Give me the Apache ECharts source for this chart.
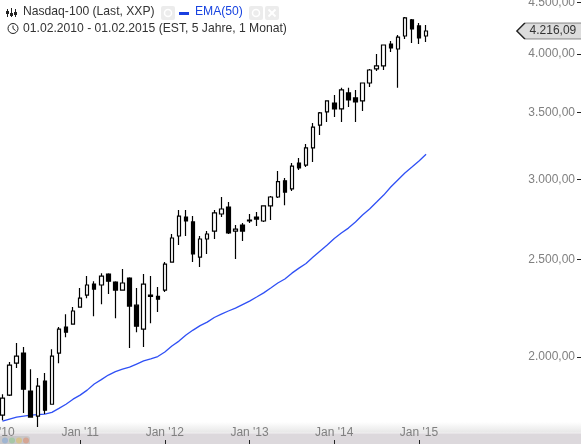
<!DOCTYPE html>
<html><head><meta charset="utf-8">
<style>html,body{margin:0;padding:0;background:#fff;overflow:hidden}#c{width:581px;height:444px}</style>
<script src="https://cdn.jsdelivr.net/npm/echarts@6/dist/echarts.min.js"></script>
</head><body><div id="c"></div>
<script>
const FONT = '"Liberation Sans", Arial, sans-serif';
const monthNames = ['Jan','Feb','Mär','Apr','Mai','Jun','Jul','Aug','Sep','Okt','Nov','Dez'];
const years = ['10','11','12','13','14','15','16'];
const xTickLabels = ["Jan '10","Jan '11","Jan '12","Jan '13","Jan '14","Jan '15"];
const yTicks = [2000, 2500, 3000, 3500, 4000, 4500];
const lastPrice = 4216.09;
// monthly candles, Feb 2010 to Feb 2015
const open = [1750,1832,1971,2017,1849,1746,1892,1794,2017,2141,2155,2241,2303,2362,2357,2417,2373,2330,2395,2251,2131,2303,2297,2330,2484,2637,2754,2723,2513,2619,2667,2773,2818,2667,2704,2729,2754,2729,2825,2883,2992,2937,3116,3102,3226,3399,3503,3575,3527,3659,3617,3592,3743,3865,3892,4092,4046,4168,4324,4265,4168];
const close = [1819,1962,2003,1857,1742,1870,1770,2003,2131,2116,2221,2287,2357,2335,2406,2378,2330,2368,2246,2145,2362,2297,2282,2473,2625,2760,2729,2531,2619,2649,2780,2805,2655,2679,2667,2735,2741,2825,2883,2986,2916,3095,3081,3226,3384,3495,3592,3527,3684,3600,3584,3743,3856,3892,4083,4055,4158,4344,4236,4149,4216.09];
const low = [1730,1828,1949,1758,1742,1703,1754,1794,1971,2092,2155,2241,2287,2195,2256,2309,2185,2330,2040,2116,2045,2160,2216,2320,2484,2583,2637,2484,2456,2531,2619,2754,2649,2502,2607,2716,2698,2723,2735,2876,2830,2923,3067,3088,3124,3323,3423,3463,3423,3543,3423,3511,3709,3847,3856,4018,3702,4139,4102,4092,4111];
const high = [1836,1976,2064,2045,1944,1905,1927,2035,2141,2205,2241,2341,2406,2378,2422,2422,2378,2445,2400,2341,2417,2406,2346,2484,2649,2799,2799,2760,2637,2667,2799,2883,2850,2704,2716,2773,2786,2825,2889,3060,3012,3116,3152,3255,3415,3503,3592,3642,3702,3702,3684,3743,3865,4000,4083,4120,4178,4354,4334,4295,4275];
const ema50 = [1726,1734,1742,1746,1750,1752,1754,1761,1777,1794,1815,1832,1853,1879,1898,1918,1933,1944,1953,1967,1981,1990,2001,2022,2050,2073,2102,2126,2148,2165,2188,2205,2221,2236,2254,2272,2293,2315,2341,2368,2390,2422,2450,2476,2513,2548,2583,2622,2655,2685,2723,2767,2805,2850,2896,2950,2998,3046,3088,3131,3179];

const categories = [];
years.forEach(y => monthNames.forEach(m => categories.push(m + " '" + y)));
categories.length = 84;

const fmt = (v, d) => Number(v).toLocaleString('de-DE', {minimumFractionDigits: d, maximumFractionDigits: d});
const candleData = [['-','-','-','-']].concat(open.map((o, i) => [o, close[i], low[i], high[i]]));
const emaData = ['-'].concat(ema50);
const isJan = (i, v) => xTickLabels.includes(v);

const box = (x) => ({type:'rect', shape:{x:x, y:6, width:14, height:14, r:2}, style:{fill:'#ececec'}, silent:true});
const dot = (x, c) => ({type:'circle', shape:{cx:x, cy:440.5, r:3}, style:{fill:c, opacity:.55}, silent:true});
const graphicEls = [
  {type:'rect', shape:{x:0, y:422, width:581, height:11}, style:{fill:{type:'linear',x:0,y:0,x2:0,y2:1,colorStops:[{offset:0,color:'#ffffff'},{offset:1,color:'#e6e6e6'}]}}, silent:true, z:-1},
  {type:'rect', shape:{x:0, y:433, width:581, height:11}, style:{fill:'#dcd8dc'}, silent:true, z:-1},
  {type:'rect', shape:{x:0, y:432.5, width:581, height:1}, style:{fill:'#f2eff2'}, silent:true, z:-1},
  {type:'rect', shape:{x:-4, y:436, width:34, height:14, r:3}, style:{fill:'#c8c6c8'}, silent:true, z:-1},
  dot(5,'#7fa8d8'), dot(12,'#8cc88c'), dot(19,'#e0c060'), dot(26,'#e08a6a'),
  // header
  {type:'line', shape:{x1:7.5,y1:9,x2:7.5,y2:17}, style:{stroke:'#222',lineWidth:1}},
  {type:'line', shape:{x1:11.5,y1:8,x2:11.5,y2:17}, style:{stroke:'#222',lineWidth:1}},
  {type:'line', shape:{x1:15.5,y1:9,x2:15.5,y2:17}, style:{stroke:'#222',lineWidth:1}},
  {type:'rect', shape:{x:6,y:11,width:3,height:3}, style:{fill:'#222'}},
  {type:'rect', shape:{x:10,y:13,width:3,height:3}, style:{fill:'#222'}},
  {type:'rect', shape:{x:14,y:12,width:3,height:3}, style:{fill:'#222'}},
  {type:'text', x:23, y:11.5, style:{text:'Nasdaq-100 (Last, XXP)', font:'12.15px '+FONT, fill:'#333', textVerticalAlign:'middle'}},
  box(161), box(249), box(265),
  {type:'circle', shape:{cx:168,cy:13,r:3.5}, style:{fill:'none',stroke:'#fff',lineWidth:1.5}},
  {type:'circle', shape:{cx:256,cy:13,r:3.5}, style:{fill:'none',stroke:'#fff',lineWidth:1.5}},
  {type:'line', shape:{x1:268.5,y1:9.5,x2:275.5,y2:16.5}, style:{stroke:'#fff',lineWidth:2}},
  {type:'line', shape:{x1:275.5,y1:9.5,x2:268.5,y2:16.5}, style:{stroke:'#fff',lineWidth:2}},
  {type:'rect', shape:{x:179,y:12,width:10,height:3}, style:{fill:'#1a3fe0'}},
  {type:'text', x:195, y:11.5, style:{text:'EMA(50)', font:'12.15px '+FONT, fill:'#1a45e0', textVerticalAlign:'middle'}},
  {type:'circle', shape:{cx:13,cy:28.5,r:5}, style:{fill:'none',stroke:'#222',lineWidth:1}},
  {type:'polyline', shape:{points:[[13,25.5],[13,28.5],[15.5,30.5]]}, style:{fill:'none',stroke:'#222',lineWidth:1}},
  {type:'text', x:23, y:28.5, style:{text:'01.02.2010 - 01.02.2015 (EST, 5 Jahre, 1 Monat)', font:'12.15px '+FONT, fill:'#333', textVerticalAlign:'middle'}}
];

const chart = echarts.init(document.getElementById('c'), null, {renderer:'canvas'});
chart.setOption({
  animation:false,
  backgroundColor:'#fff',
  grid:{left:-8.13, top:0, width:593.04, height:444, containLabel:false, outerBoundsMode:'none'},
  graphic:{elements:graphicEls},
  xAxis:{
    type:'category', data:categories, boundaryGap:true,
    axisLine:{show:false},
    axisTick:{show:true, inside:true, length:4, alignWithLabel:true, interval:isJan, lineStyle:{color:'#222',width:1}},
    axisLabel:{show:true, inside:true, margin:5, interval:isJan, hideOverlap:false, showMinLabel:true, fontFamily:FONT, fontSize:12, color:'#808080',
      formatter:v=>v},
    splitLine:{show:false}
  },
  yAxis:{
    type:'log', logBase:10, min:1638, max:4526, position:'right', offset:-3.91,
    axisLine:{show:false},
    axisTick:{show:true, inside:true, length:4, customValues:yTicks, lineStyle:{color:'#222',width:1}},
    axisLabel:{show:true, inside:true, margin:6, customValues:yTicks, fontFamily:FONT, fontSize:12, color:'#808080',
      formatter:v=>fmt(v,2)},
    splitLine:{show:false}, minorTick:{show:false}
  },
  series:[
    {type:'line', name:'EMA(50)', data:emaData, showSymbol:false, smooth:false, z:3, lineStyle:{color:'#2f50f5',width:1.3}, silent:true, connectNulls:false},
    {type:'candlestick', name:'Nasdaq-100', data:candleData, barWidth:4, z:4, silent:true,
      itemStyle:{color:'#ffffff', color0:'#000000', borderColor:'#000000', borderColor0:'#000000', borderWidth:1.2},
      markPoint:{silent:true, symbol:'path://M0,8 L8,0 L66,0 L66,16 L8,16 Z', symbolSize:[66,16], symbolOffset:[3.8,0],
        itemStyle:{color:'#dcdcdc', borderColor:'#222', borderWidth:1},
        label:{show:true, position:'inside', offset:[3,0], fontFamily:FONT, fontSize:12, color:'#333', formatter:()=>fmt(lastPrice,2)},
        data:[{coord:[78, lastPrice]}]}
    }
  ]
});
</script></body></html>
